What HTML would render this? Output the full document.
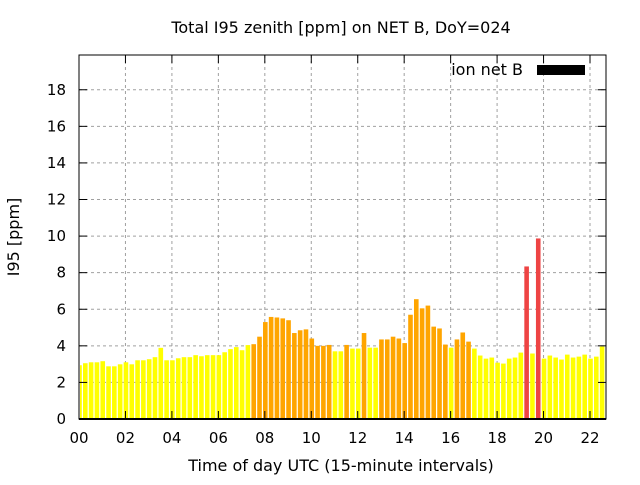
<!DOCTYPE html>
<html><head><meta charset="utf-8"><style>
body{margin:0;background:#fff;font-family:"Liberation Sans","DejaVu Sans",sans-serif;}
svg text{font-family:"DejaVu Sans","Liberation Sans",sans-serif;font-size:15px;fill:#000;}
svg text.big{font-size:16px;}
</style></head><body>
<svg id="chart" width="640" height="480" xmlns="http://www.w3.org/2000/svg">
<text class="big" x="341" y="33" text-anchor="middle">Total I95 zenith [ppm] on NET B, DoY=024</text>
<text class="big" transform="translate(19,237) rotate(-90)" text-anchor="middle">I95 [ppm]</text>
<text class="big" x="341" y="471" text-anchor="middle">Time of day UTC (15-minute intervals)</text>
<g id="grid"></g>
<g id="bars"></g>
<g id="axes"></g>
<text class="big" x="523" y="75" text-anchor="end">ion net B</text>
<rect x="537" y="65" width="48" height="10" fill="#000"/>
</svg>
<script>
const values = [2.94,3.05,3.1,3.1,3.16,2.88,2.88,2.99,3.1,2.99,3.21,3.21,3.27,3.38,3.89,3.21,3.21,3.32,3.38,3.38,3.49,3.43,3.49,3.49,3.49,3.65,3.82,3.93,3.76,4.04,
4.09,4.5,5.3,5.58,5.55,5.5,5.4,4.7,4.85,4.9,4.4,4.0,4.0,4.05,3.7,3.7,4.05,3.85,3.85,4.7,3.9,3.9,4.35,4.35,4.5,4.4,4.15,5.7,6.55,6.05,6.2,5.05,4.95,
4.07,3.9,4.35,4.73,4.23,3.85,3.47,3.3,3.36,3.08,3.03,3.3,3.36,3.63,8.34,3.58,9.87,3.3,3.47,3.36,3.25,3.52,3.36,3.41,3.52,3.3,3.41,3.96,3.3];
const levels = [0,0,0,0,0,0,0,0,0,0,0,0,0,0,0,0,0,0,0,0,0,0,0,0,0,0,0,0,0,0,
1,1,1,1,1,1,1,1,1,1,1,1,1,1,0,0,1,0,0,1,0,0,1,1,1,1,1,1,1,1,1,1,1,
1,0,1,1,1,0,0,0,0,0,0,0,0,0,2,0,2,0,0,0,0,0,0,0,0,0,0,0,0];
const yTicks = [0,2,4,6,8,10,12,14,16,18];
const xTicks = ["00","02","04","06","08","10","12","14","16","18","20","22"];
const colors = ["#ffff00","#ffa500","#ee4444"];
const L=79,R=606,T=55,B=419,YMAX=19.9;
function xs(h){return L+h*(590-L)/22;}
function ys(v){return B-v*(B-T)/YMAX;}
const NS="http://www.w3.org/2000/svg";
function mk(t,a,p){const e=document.createElementNS(NS,t);for(const k in a)e.setAttribute(k,a[k]);p.appendChild(e);return e;}
const grid=document.getElementById('grid'),bars=document.getElementById('bars'),axes=document.getElementById('axes');
yTicks.forEach(v=>{const y=ys(v);
 if(v>0){const g=mk('line',{x1:L,x2:R,y1:y,y2:y,stroke:'#a0a0a0','stroke-dasharray':'3,3'},grid);
 
 }
 mk('line',{x1:L,x2:L+8,y1:y,y2:y,stroke:'#000'},axes);
 mk('line',{x1:R,x2:R-8,y1:y,y2:y,stroke:'#000'},axes);
 const t=mk('text',{x:66,y:y+5,'text-anchor':'end'},axes);t.textContent=v;
 
 
});
xTicks.forEach((s,i)=>{const x=xs(i*2);
 if(i>0){const g=mk('line',{x1:x,x2:x,y1:T,y2:B,stroke:'#a0a0a0','stroke-dasharray':'3,3'},grid);
 
 }
 mk('line',{x1:x,x2:x,y1:B,y2:B-8,stroke:'#000'},axes);
 mk('line',{x1:x,x2:x,y1:T,y2:T+8,stroke:'#000'},axes);
 const t=mk('text',{x:x,y:443,'text-anchor':'middle'},axes);t.textContent=s;
 
 
});
const bw=4.6;
values.forEach((v,i)=>{const xc=xs(i*0.25)+0.5;let x0=xc-bw/2,x1=xc+bw/2;
 x0=Math.max(x0,L+1);x1=Math.min(x1,R-1);if(x1<=x0)return;
 const r=mk('rect',{x:x0,y:ys(v),width:x1-x0,height:B-ys(v),fill:colors[levels[i]]},bars);
 
 
});
const fr=mk('rect',{x:L,y:T,width:R-L,height:B-T,fill:'none',stroke:'#000','stroke-width':1},axes);


const bl=mk('line',{x1:L,x2:R,y1:B,y2:B,stroke:'#000','stroke-width':2},axes);


</script>
</body></html>
